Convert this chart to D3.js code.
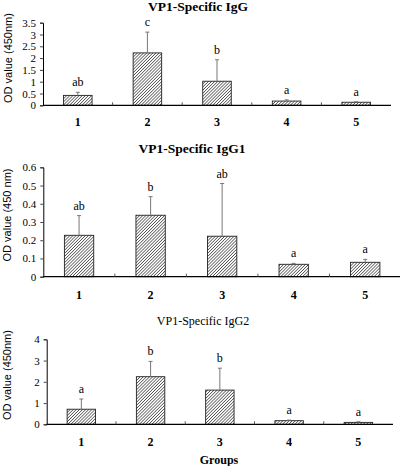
<!DOCTYPE html>
<html><head><meta charset="utf-8">
<script src="https://cdn.jsdelivr.net/npm/d3@7"></script>
<style>body{margin:0;background:#fff}svg{display:block}
.serif{font-family:"Liberation Serif","Times New Roman",serif}
.tick text{font-family:"Liberation Serif","Times New Roman",serif !important;}
</style>
</head><body>
<svg id="c" width="400" height="466"></svg>
<script>
const groups = ["1","2","3","4","5"];
const titles = ["VP1-Specific IgG","VP1-Specific IgG1","VP1-Specific IgG2"];
const yLabels = ["OD value (450nm)","OD value (450 nm)","OD value (450nm)"];
const iggMean = [0.42, 2.22, 1.02, 0.18, 0.13];
const iggErr  = [0.55, 3.10, 1.93, 0.23, 0.15];
const iggSig  = ["ab","c","b","a","a"];
const igg1Mean = [0.227, 0.337, 0.222, 0.068, 0.079];
const igg1Err  = [0.335, 0.439, 0.511, 0.073, 0.095];
const igg1Sig  = ["ab","b","ab","a","a"];
const igg2Mean = [0.71, 2.24, 1.61, 0.17, 0.09];
const igg2Err  = [1.19, 2.96, 2.64, 0.20, 0.12];
const igg2Sig  = ["a","b","b","a","a"];
const igg1Ticks = [0,0.1,0.2,0.3,0.4,0.5,0.6];
const iggTicks = [0,0.5,1,1.5,2,2.5,3,3.5];
const igg2Ticks = [0,1,2,3,4];
const xTitle = "Groups";

const SERIF = "Liberation Serif, Times New Roman, serif";
const svg = d3.select("#c");
const defs = svg.append("defs");
const pw = 2.2;
const pat = defs.append("pattern").attr("id","hatch").attr("patternUnits","userSpaceOnUse")
  .attr("width",pw).attr("height",pw).attr("patternTransform","rotate(45)");
pat.append("rect").attr("width",pw).attr("height",pw).attr("fill","#fff");
pat.append("line").attr("x1",0).attr("y1",0).attr("x2",0).attr("y2",pw)
  .attr("stroke","#111").attr("stroke-width",1.1);

const panels = [
  {mean: iggMean, err: iggErr, sig: iggSig, ticks: iggTicks, max: 3.5, fmt: d=>String(d),
   x0:43, x1:391, yT:22.7, yB:105.3, title:{x:198,y:11,size:13.5,weight:"bold"},
   ylab:{x:8,y:58}, xlabY:122},
  {mean: igg1Mean, err: igg1Err, sig: igg1Sig, ticks: igg1Ticks, max: 0.6, fmt: d=>d===0?"0":d3.format(".1f")(d),
   x0:43.3, x1:401, yT:167.3, yB:276.7, title:{x:192,y:153,size:13.5,weight:"bold"},
   ylab:{x:7,y:215}, xlabY:295},
  {mean: igg2Mean, err: igg2Err, sig: igg2Sig, ticks: igg2Ticks, max: 4, fmt: d=>String(d),
   x0:46.7, x1:393, yT:339.3, yB:424.3, title:{x:203,y:325,size:12,weight:"normal"},
   ylab:{x:7,y:375}, xlabY:442}
];

panels.forEach((p,i)=>{
  const g = svg.append("g");
  const x = d3.scaleBand().domain(groups).range([p.x0,p.x1]).paddingInner(0).paddingOuter(0);
  const y = d3.scaleLinear().domain([0,p.max]).range([p.yB,p.yT]);
  const bw = x.bandwidth()*0.41;

  g.append("text").attr("x",p.title.x).attr("y",p.title.y).attr("text-anchor","middle")
    .attr("font-family",SERIF).attr("font-size",p.title.size)
    .attr("font-weight",p.title.weight).text(titles[i]);
  g.append("text").attr("transform",`translate(${p.ylab.x},${p.ylab.y}) rotate(-90)`)
    .attr("text-anchor","middle").attr("dominant-baseline","central")
    .attr("font-family","Liberation Sans, Arial, sans-serif").attr("font-size",11).text(yLabels[i]);

  const ya = g.append("g").attr("transform",`translate(${p.x0},0)`)
    .call(d3.axisLeft(y).tickValues(p.ticks).tickFormat(p.fmt).tickSize(3).tickPadding(4));
  ya.attr("font-family",SERIF).attr("font-size",11);
  ya.select(".domain").attr("stroke","#000");
  ya.selectAll(".tick line").attr("stroke","#444");
  ya.selectAll("text").attr("fill","#000");

  g.selectAll("rect.bar").data(groups).enter().append("rect")
    .attr("x",d=>x(d)+x.bandwidth()/2-bw/2).attr("width",bw)
    .attr("y",(d,j)=>y(p.mean[j])).attr("height",(d,j)=>y(0)-y(p.mean[j]))
    .attr("fill","url(#hatch)").attr("stroke","#222").attr("stroke-width",0.9);

  groups.forEach((d,j)=>{
    const cx = x(d)+x.bandwidth()/2;
    g.append("line").attr("x1",cx).attr("x2",cx).attr("y1",y(p.mean[j])).attr("y2",y(p.err[j]))
      .attr("stroke","#777").attr("stroke-width",1);
    g.append("line").attr("x1",cx-2).attr("x2",cx+2).attr("y1",y(p.err[j])).attr("y2",y(p.err[j]))
      .attr("stroke","#777").attr("stroke-width",1);
    g.append("text").attr("x",cx).attr("y",y(p.err[j])-6).attr("text-anchor","middle")
      .attr("font-family",SERIF).attr("font-size",12).attr("fill","#000").text(p.sig[j]);
  });

  const xa = g.append("g").attr("transform",`translate(0,${p.yB})`);
  xa.append("line").attr("x1",p.x0).attr("x2",p.x1).attr("y1",0).attr("y2",0).attr("stroke","#000").attr("stroke-width",1.2);
  groups.slice(1).forEach(d=>{
    xa.append("line").attr("x1",x(d)).attr("x2",x(d)).attr("y1",0).attr("y2",-3).attr("stroke","#555");
  });
  groups.forEach(d=>{
    g.append("text").attr("x",x(d)+x.bandwidth()/2).attr("y",p.xlabY).attr("text-anchor","middle")
      .attr("dominant-baseline","central")
      .attr("font-family",SERIF).attr("font-size",12).attr("font-weight","bold").text(d);
  });
});

svg.append("text").attr("x",219).attr("y",460).attr("text-anchor","middle").attr("dominant-baseline","central")
  .attr("font-family",SERIF).attr("font-size",12).attr("font-weight","bold").text(xTitle);
</script>
</body></html>
